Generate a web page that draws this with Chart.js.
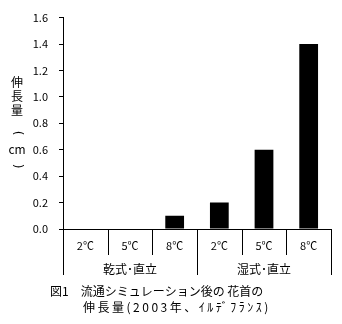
<!DOCTYPE html>
<html><head><meta charset="utf-8">
<script src="https://cdn.jsdelivr.net/npm/chart.js@4"></script>
<style>html,body{margin:0;padding:0;background:#fff;}canvas{display:block;}</style>
</head><body>
<canvas id="c" width="342" height="324"></canvas>
<script>
const categories = ["2℃","5℃","8℃","2℃","5℃","8℃"];
const groups = ["乾式･直立","湿式･直立"];
const groupSizes = [3,3];
const values = [0, 0, 0.1, 0.2, 0.6, 1.4];
const yTicks = [0.0,0.2,0.4,0.6,0.8,1.0,1.2,1.4,1.6];
const yTitle = ["伸","長","量","(","cm",")"];
const caption = ["図1　流通シミュレーション後の 花首の","伸長量(2003年、ｲﾙﾃﾞﾌﾗﾝｽ)"];

const FONT = '"Noto Sans CJK JP", "Liberation Sans", sans-serif';

const decor = {
  id: 'decor',
  afterDraw(chart) {
    const ctx = chart.ctx;
    const x = chart.scales.x, y = chart.scales.y;
    const base = y.getPixelForValue(0);
    ctx.save();
    ctx.strokeStyle = '#000'; ctx.lineWidth = 1;
    const n = categories.length;
    const step = (x.right - x.left) / n;
    let groupStarts = [0]; let acc = 0;
    groupSizes.forEach(s => { acc += s; groupStarts.push(acc); });
    for (let i = 0; i <= n; i++) {
      const px = Math.round(x.left + step * i) + 0.5;
      const isGroup = groupStarts.includes(i);
      ctx.beginPath();
      ctx.moveTo(px, base);
      ctx.lineTo(px, isGroup ? base + 46 : base + 26);
      ctx.stroke();
    }
    ctx.fillStyle = '#000';
    ctx.font = '12px ' + FONT;
    ctx.textAlign = 'center'; ctx.textBaseline = 'middle';
    groups.forEach((g, gi) => {
      const cx = x.left + step * (groupStarts[gi] + groupStarts[gi+1]) / 2;
      ctx.fillText(g, cx, base + 40);
    });
    const ys = [82, 96, 110, 133, 149, 166];
    yTitle.forEach((ch, i) => {
      ctx.save();
      ctx.translate(17, ys[i]);
      if (ch === '(' || ch === ')') { ctx.rotate(Math.PI/2); ctx.font = '12px "DejaVu Sans"'; }
      else ctx.font = '12px ' + FONT;
      ctx.textAlign = 'center'; ctx.textBaseline = 'middle';
      ctx.fillText(ch, 0, 0);
      ctx.restore();
    });
    ctx.font = '12px ' + FONT;
    ctx.textAlign = 'left';
    ctx.fillText(caption[0], 50, 291);
    ctx.letterSpacing = '2.5px';
    ctx.fillText(caption[1], 83, 307);
    ctx.restore();
  }
};

new Chart(document.getElementById('c'), {
  type: 'bar',
  data: {
    labels: categories,
    datasets: [{ data: values, backgroundColor: '#000', borderWidth: 0,
      barPercentage: 0.42, categoryPercentage: 1.0 }]
  },
  options: {
    responsive: false, animation: false,
    layout: { padding: { top: 15, right: 11, left: 0, bottom: 0 } },
    plugins: { legend: { display: false }, tooltip: { enabled: false } },
    scales: {
      x: {
        grid: { display: false, drawTicks: false },
        border: { display: true, color: '#000', width: 1 },
        ticks: { color: '#000', font: { family: FONT, size: 11 }, padding: 10, maxRotation: 0, autoSkip: false },
        afterFit: s => { s.height = 95; }
      },
      y: {
        min: 0, max: 1.6,
        afterBuildTicks: s => { s.ticks = yTicks.map(v => ({ value: v })); },
        grid: { drawOnChartArea: false, drawTicks: true, tickLength: 4, color: '#000' },
        border: { display: true, color: '#000', width: 1 },
        ticks: { color: '#000', font: { family: FONT, size: 11 }, padding: 11,
          callback: v => Number(v).toFixed(1) },
        afterFit: s => { s.width = 63; }
      }
    }
  },
  plugins: [decor]
});
</script>
</body></html>
